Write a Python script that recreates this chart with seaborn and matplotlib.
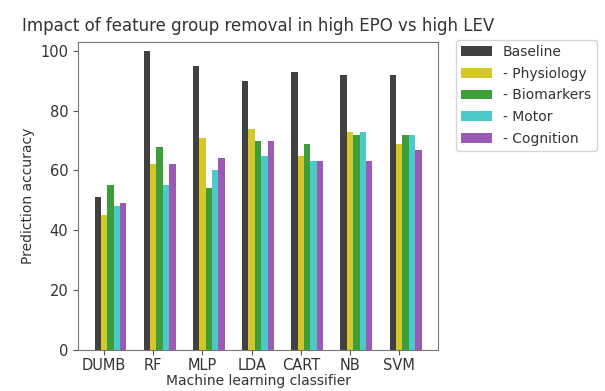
import pandas as pd
import numpy as np
import seaborn as sns
import matplotlib.pyplot as plt

# --- Data ---
classifiers = ['DUMB', 'RF', 'MLP', 'LDA', 'CART', 'NB', 'SVM']
groups = ['Baseline', '- Physiology', '- Biomarkers', '- Motor', '- Cognition']

baseline = [51, 100, 95, 90, 93, 92, 92]
no_physiology = [45, 62, 71, 74, 65, 73, 69]
no_biomarkers = [55, 68, 54, 70, 69, 72, 72]
no_motor = [48, 55, 60, 65, 63, 73, 72]
no_cognition = [49, 62, 64, 70, 63, 63, 67]

colors = ['#404040', '#d4c72a', '#3b9e3b', '#4ec9c9', '#9b5bb5']

# build long table for seaborn
series = [baseline, no_physiology, no_biomarkers, no_motor, no_cognition]
rows = []
for g, vals in zip(groups, series):
    for c, v in zip(classifiers, vals):
        rows.append({'classifier': c, 'group': g, 'accuracy': v})
df = pd.DataFrame(rows)

sns.set_style('ticks')
plt.rcParams['font.family'] = ['DejaVu Sans']
plt.rcParams['text.color'] = '#333333'
plt.rcParams['axes.labelcolor'] = '#333333'
plt.rcParams['xtick.color'] = '#333333'
plt.rcParams['ytick.color'] = '#333333'

fig = plt.figure(figsize=(6.05, 3.91), dpi=100)
ax = fig.add_axes([0.129, 0.105, 0.595, 0.788])

bar_w = 0.13
sns.barplot(data=df, x='classifier', y='accuracy', hue='group',
            order=classifiers, hue_order=groups, palette=colors,
            width=bar_w * len(groups), saturation=1, linewidth=0, ax=ax)

# original chart puts the tick on the second bar of each group
for p in ax.patches:
    p.set_x(p.get_x() + bar_w)

ax.set_xlim(-0.53, 6.79)
ax.set_ylim(0, 103)
ax.set_yticks([0, 20, 40, 60, 80, 100])
ax.set_xlabel('Machine learning classifier', fontsize=10, labelpad=1)
ax.set_ylabel('Prediction accuracy', fontsize=10)
ax.tick_params(labelsize=10.5, colors='#555555', labelcolor='#333333')
ax.tick_params(axis='x', pad=2)
ax.set_title('Impact of feature group removal in high EPO vs high LEV', fontsize=12, pad=8)
for s in ax.spines.values():
    s.set_color('#777777')

ax.legend(loc='upper left', bbox_to_anchor=(1.03, 1.03), fontsize=10,
          frameon=True, handlelength=2.2, labelspacing=0.55)

plt.savefig('out.png', dpi=100)
